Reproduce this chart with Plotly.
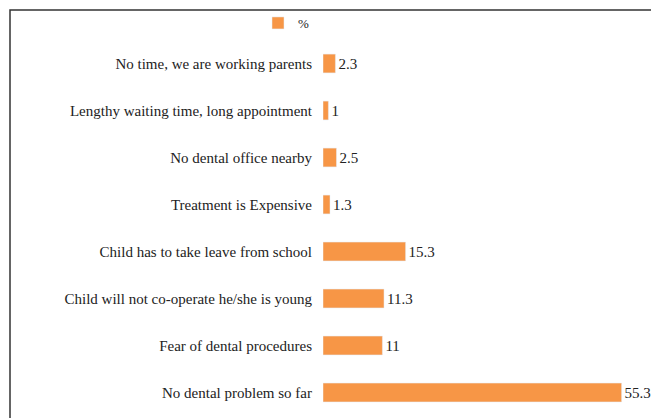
import plotly.graph_objects as go

# categories listed bottom to top
reasons = [
    "No dental problem so far",
    "Fear of dental procedures",
    "Child will not co-operate he/she is young",
    "Child has to take leave from school",
    "Treatment is Expensive",
    "No dental office nearby",
    "Lengthy waiting time, long appointment",
    "No time, we are working parents",
]
percent = [55.3, 11, 11.3, 15.3, 1.3, 2.5, 1, 2.3]

W, H = 659, 418

fig = go.Figure(go.Bar(
    x=percent, y=reasons, orientation="h", name="%",
    marker_color="#F79646", width=0.4,
    text=[f"{v:g}" for v in percent], textposition="outside",
    textfont=dict(size=15, color="#222"), cliponaxis=False,
))

fig.update_layout(
    width=W, height=H,
    margin=dict(l=0, r=0, t=0, b=0),
    paper_bgcolor="white", plot_bgcolor="white",
    font=dict(family="Liberation Serif", size=15, color="#222"),
    showlegend=True,
    legend=dict(orientation="h", x=250 / W, y=1 - 15 / H, xanchor="left", yanchor="middle",
                font=dict(size=13), bgcolor="rgba(0,0,0,0)"),
    xaxis=dict(domain=[315 / W, 639 / W], range=[0, 60], visible=False),
    yaxis=dict(domain=[10 / H, 386 / H], showline=False, ticks="", ticklabelstandoff=10,
               range=[-0.5, 7.5], automargin=False),
    shapes=[dict(type="rect", xref="paper", yref="paper",
                 x0=2 / W, x1=1 - 3 / W, y0=2 / H, y1=1 - 2 / H,
                 line=dict(color="#333", width=1.5))],
)

fig.write_html("out.html")
